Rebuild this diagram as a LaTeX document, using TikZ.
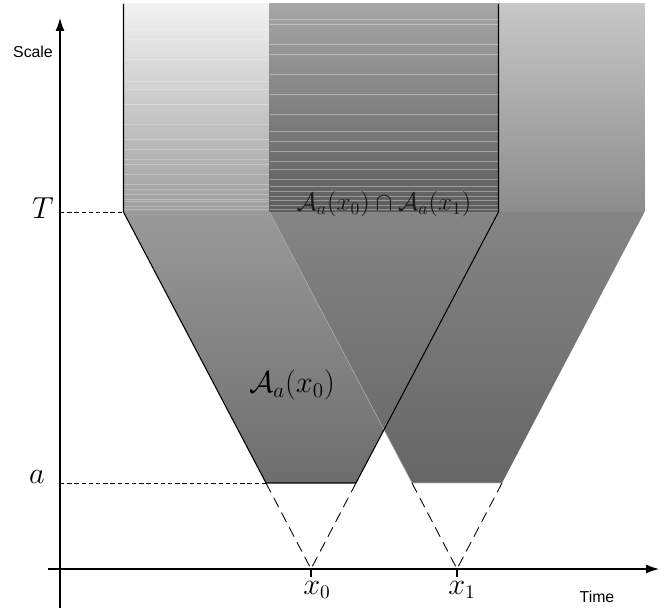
\documentclass[tikz,border=0pt]{standalone}
\usepackage{fontspec}
\newfontfamily\axisfont{Liberation Sans}
\usetikzlibrary{arrows.meta}

\begin{document}
\begin{tikzpicture}[
  axis/.style={line width=0.7pt, -{Latex[length=2.6mm,width=1.8mm]}},
  outline/.style={line width=0.6pt, black},
  guide/.style={line width=0.5pt, dash pattern=on 2.5pt off 1.6pt},
  vdash/.style={line width=0.5pt, dash pattern=on 6pt off 3.5pt},
  streak/.style={white, opacity=0.35, line width=0.35pt},
  lbl/.style={font=\fontsize{16}{18}\selectfont, inner sep=0pt},
  axlbl/.style={font=\axisfont\fontsize{9}{11}\selectfont, inner sep=0pt}
]
\useasboundingbox (-1.2,-0.78) rectangle (12.16,11.38);
% levels, centres and half widths of the two cones
\def\la{1.72} \def\lT{7.14} \def\ltop{11.3}
\def\xa{5.02} \def\xb{7.94}
\def\wa{0.9} \def\wT{3.75}

% cone at x_0
\shade[top color=black!5, bottom color=black!38] (\xa-\wT,\lT) rectangle (\xa+\wT,\ltop);
\shade[top color=black!40, bottom color=black!57] (\xa-\wT,\lT) -- (\xa+\wT,\lT) -- (\xa+\wa,\la) -- (\xa-\wa,\la) -- cycle;
\foreach \y in {7.2,7.25,7.35,7.4,7.5,7.6,7.7,7.9,8.1,8.2,8.4,8.6,8.9,9.3,9.6,9.75,10.2,10.6,10.8}
  \draw[streak, opacity=0.25] (\xa-\wT,\y) -- (\xb-\wT,\y);
% cone at x_1
\shade[top color=black!22, bottom color=black!45] (\xb-\wT,\lT) rectangle (\xb+\wT,\ltop);
\shade[top color=black!48, bottom color=black!60] (\xb-\wT,\lT) -- (\xb+\wT,\lT) -- (\xb+\wa,\la) -- (\xb-\wa,\la) -- cycle;
% intersection above T
\shade[top color=black!35, bottom color=black!64] (\xb-\wT,\lT) rectangle (\xa+\wT,\ltop);
\foreach \y in {7.2,7.28,7.38,7.45,7.55,7.65,7.8,8.0,8.15,8.35,8.55,8.75,9.1,9.5,9.9,10.3,10.5,10.9,11.0}
  \draw[streak] (\xb-\wT,\y) -- (\xa+\wT,\y);

\draw[black!30, line width=0.3pt] (\xb-\wT,\lT) -- (\xb-\wa,\la) -- (\xb+\wa,\la);
\draw[outline] (\xa-\wT,\ltop) -- (\xa-\wT,\lT) -- (\xa-\wa,\la) -- (\xa+\wa,\la) -- (\xa+\wT,\lT) -- (\xa+\wT,\ltop);

% axes
\draw[axis] (-0.24,0) -- (11.98,0);
\draw[axis] (0,-0.78) -- (0,11.02);
\draw[line width=0.6pt] (\xa,0) -- (\xa,-0.16);
\draw[line width=0.6pt] (\xb,0) -- (\xb,-0.16);

% levels T and a
\draw[guide] (0,\lT) -- (\xa-\wT,\lT);
\draw[guide] (0,\la) -- (\xa-\wa,\la);
\draw[vdash] (\xa-\wa,\la) -- (\xa,0) -- (\xa+\wa,\la);
\draw[vdash] (\xb-\wa,\la) -- (\xb,0) -- (\xb+\wa,\la);

\node[axlbl] (scale) at (-0.54,10.34) {Scale};
\node[axlbl] (time) at (10.74,-0.56) {Time};
\node[lbl] (levT) at (-0.34,7.22) {$T$};
\node[lbl] (leva) at (-0.46,1.84) {$a$};
\node[lbl, anchor=north] (labx0) at (\xa+0.12,-0.24) {$x_0$};
\node[lbl, anchor=north] (labx1) at (\xb+0.1,-0.24) {$x_1$};
\node[font=\fontsize{18}{20}\selectfont, inner sep=0pt] (cone0) at (4.64,3.68) {$\mathcal{A}_a(x_0)$};
\node[font=\fontsize{14}{16}\selectfont, text=black!90, inner sep=0pt] (both) at (6.48,7.3) {$\mathcal{A}_a(x_0)\cap\mathcal{A}_a(x_1)$};
\end{tikzpicture}
\end{document}
